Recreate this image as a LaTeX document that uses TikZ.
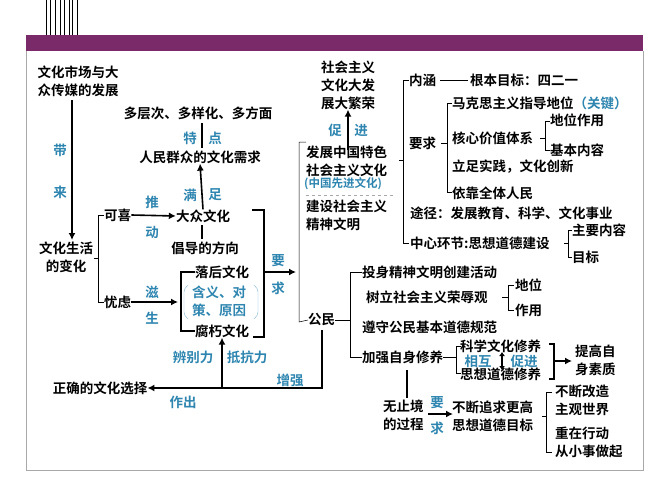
\documentclass[tikz,border=0pt]{standalone}
\usepackage{fontspec}
\setmainfont{Noto Sans CJK SC}[BoldFont={Noto Sans CJK SC Bold}]
\usetikzlibrary{arrows.meta}
\definecolor{bar}{HTML}{7A2A68}
\definecolor{hint}{HTML}{2E86B0}
\definecolor{frame}{HTML}{A8A8A8}

\tikzset{
  txt/.style={inner sep=0pt,anchor=west,align=left,font=\fontsize{13.5}{18}\selectfont\bfseries},
  mid/.style={txt,anchor=center,align=center},
  verb/.style={mid,hint},
  brk/.style={draw,line width=0.5pt},
  hvy/.style={draw,line width=1.6pt},
  arr/.style={hvy,-{Latex[length=7pt,width=7pt]}}
}

\begin{document}
\begin{tikzpicture}[x=1pt,y=-1pt]
\useasboundingbox (0,0) rectangle (666,500);
% Frame:
\fill [white] (0,0) rectangle (666,500);
\draw [frame,line width=1pt] (26,51) -- (26,470) -- (643,470) -- (643,51);
\fill [bar] (26,35) rectangle (643,51);
\foreach \x in {46,50,55,60,64,69,72,77}
  \draw [line width=1pt] (\x,0) -- (\x,35);

% Left part
\node [mid] (market) at (78,81) {文化市场与大\\众传媒的发展};
\node [mid] (life) at (66,257) {文化生活\\的变化};
\node [txt] (good) at (104,215) {可喜};
\node [txt] (worry) at (104,302) {忧虑};
\node [mid] (mass) at (203,216) {大众文化};
\node [mid] (need) at (200,157) {人民群众的文化需求};
\node [mid] (trait) at (198,113) {多层次、多样化、多方面};
\node [mid] (guide) at (205,248) {倡导的方向};
\node [mid] (back) at (222,272) {落后文化};
\node [mid] (decay) at (222,331) {腐朽文化};
\node [verb] (cause) at (219,301) {含义、对\\策、原因};
\node [mid] (choice) at (100,388) {正确的文化选择};

\path [arr] (72,100) -- (72,240);
\node [verb] at (60,150) {带};
\node [verb] at (60,192) {来};
\path [brk] (104,215) -| (98,302) -- (104,302);
\path [brk] (98,258) -- (94,258);
\path [arr] (good.east) -- (mass.west);
\node [verb] at (152,202) {推};
\node [verb] at (152,232) {动};
\path [arr] (mass.north) -- (need.south);
\node [verb] at (190,195) {满};
\node [verb] at (215,195) {足};
\path [hvy] (202,148) -- (202,123);
\node [verb] at (190,138) {特};
\node [verb] at (215,138) {点};
\path [hvy] (202,225) -- (202,239);
\path [hvy] (back.west) -| (181,331) -- (decay.west);
\draw [hint!60,rounded corners=4pt] (187,286) -- (184,288) -- (184,316) -- (187,318);
\draw [hint!60,rounded corners=4pt] (255,286) -- (258,288) -- (258,316) -- (255,318);
\path [arr] (worry.east) -- (178,302);
\node [verb] at (152,292) {滋};
\node [verb] at (152,318) {生};
\path [hvy] (252,210) -| (264,337) -- (253,337);
\path [arr] (264,272) -- (296,272);
\node [verb] at (278,261) {要};
\node [verb] at (278,288) {求};

% Citizens and choice
\node [txt] (citizen) at (308,320) {公民};
\path [arr] (322,330) |- (choice.east);
\path [arr] (222,387) -- (decay.south);
\node [verb] at (193,357) {辨别力};
\node [verb] at (247,357) {抵抗力};
\node [verb] at (290,380) {增强};
\node [verb] at (183,402) {作出};

% Upper right
\node [mid] (boom) at (348,85) {社会主义\\文化大发\\展大繁荣};
\node [txt] (develop) at (306,161) {发展中国特色\\社会主义文化};
\node [txt,hint,font=\fontsize{11.5}{14}\selectfont\bfseries] (adv) at (304,184) {(中国先进文化)};
\node [txt] (build) at (306,215) {建设社会主义\\精神文明};
\draw [frame,dashed] (306,195) -- (395,195);
\path [arr] (348,150) -- (boom.south);
\node [verb] at (335,130) {促};
\node [verb] at (361,130) {进};
\path [brk] (306,142) -| (299,322) -- (citizen.west);

\path [brk] (399,160) -- (403,160);
\path [brk] (409,80) -| (403,243) -- (409,243);
\node [txt] (meaning) at (409,80) {内涵};
\path [brk] (440,80) -- (468,80);
\node [txt] (goal) at (470,80) {根本目标：四二一};
\node [txt] (demand) at (409,143) {要求};
\path [brk] (441,143) -- (447,143);
\path [brk] (452,103) -| (447,192) -- (452,192);
\node [txt] (marx) at (452,103) {马克思主义指导地位\textcolor{hint}{（关键）}};
\node [txt] (core) at (452,138) {核心价值体系};
\path [brk] (540,138) -- (545,138);
\path [brk] (550,121) -| (545,150) -- (550,150);
\node [txt] (role1) at (550,120) {地位作用};
\node [txt] (content) at (550,150) {基本内容};
\node [txt] (practice) at (452,167) {立足实践，文化创新};
\node [txt] (people) at (452,193) {依靠全体人民};
\node [txt] (way) at (410,213) {途径：发展教育、科学、文化事业};
\node [txt] (centre) at (410,243) {中心环节:思想道德建设};
\path [brk] (564,243) -- (568,243);
\path [brk] (572,230) -| (568,257) -- (572,257);
\node [txt] (main) at (572,230) {主要内容};
\node [txt] (aim) at (572,257) {目标};

% Lower right
\path [brk] (citizen.east) -- (350,320);
\path [brk] (362,272) -| (350,357) -- (362,357);
\node [txt] (join) at (362,272) {投身精神文明创建活动};
\node [txt] (honor) at (366,297) {树立社会主义荣辱观};
\path [brk] (502,297) -- (508,297);
\path [brk] (514,285) -| (508,310) -- (514,310);
\node [txt] (pos) at (515,285) {地位};
\node [txt] (use) at (515,310) {作用};
\node [txt] (norm) at (362,327) {遵守公民基本道德规范};
\node [txt] (self) at (362,357) {加强自身修养};
\path [brk] (self.east) -- (456,357);
\path [brk] (461,346) -| (456,373) -- (461,373);
\node [txt] (sci) at (460,346) {科学文化修养};
\node [txt] (moral) at (460,374) {思想道德修养};
\node [verb] at (478,361) {相互};
\node [verb] at (524,361) {促进};
\path [draw,line width=1.4pt,{Latex[length=4pt,width=6pt]}-{Latex[length=4pt,width=6pt]}] (502,352) -- (502,370);
\path [hvy] (549,344) -- (554,344) -- (554,379) -- (549,379);
\path [arr] (554,361) -- (572,361);
\node [txt] (quality) at (575,360) {提高自\\身素质};
\path [hvy] (407,370) -- (407,398);
\node [txt] (endless) at (383,415) {无止境\\的过程};
\path [arr] (428,414) -- (453,414);
\node [verb] at (437,403) {要};
\node [verb] at (437,428) {求};
\node [txt] (higher) at (452,416) {不断追求更高\\思想道德目标};
\path [brk] (542,416) -- (546,416);
\path [brk] (552,392) -| (546,452) -- (552,452);
\node [txt] (reform) at (555,400) {不断改造\\主观世界};
\node [txt] (act) at (555,442) {重在行动\\从小事做起};
\end{tikzpicture}
\end{document}
